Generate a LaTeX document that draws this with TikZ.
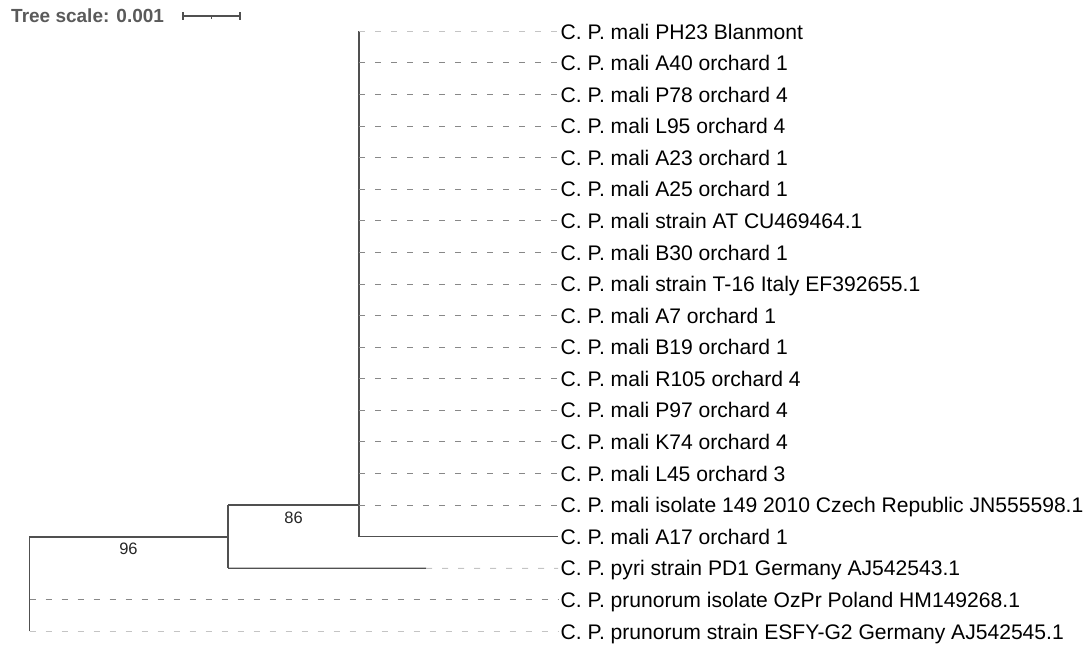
\documentclass[tikz,border=0pt]{standalone}
\usepackage{fontspec}
\setmainfont{Liberation Sans}
\usetikzlibrary{calc}
\definecolor{treec}{HTML}{505050}
\definecolor{dashc}{HTML}{888888}
\definecolor{dashlc}{HTML}{C4C4C4}
\definecolor{titlec}{HTML}{5A5A5A}
\tikzset{
  branch/.style={draw=treec, line width=1.3pt},
  leafdash/.style={draw=dashc, line width=1pt, dash pattern=on 6pt off 10pt},
  leafdashlight/.style={leafdash, draw=dashlc},
  leaflabel/.style={anchor=base west, inner sep=0pt, font=\fontsize{21.1}{24}\selectfont},
  boot/.style={inner sep=0pt, font=\fontsize{16.5}{19}\selectfont, text=black!85},
}
\begin{document}
\begin{tikzpicture}[x=1pt,y=-1pt]
\useasboundingbox (0,0) rectangle (1091,646);
% scale
\node[anchor=base west, inner sep=0pt, text=titlec, font=\fontsize{19}{22}\selectfont\bfseries] (title) at (11,22.7) {Tree scale: 0.001};
\coordinate (sb1) at (183,16);
\coordinate (sb2) at (240,16);
\coordinate (sbm) at (211.5,16);
\draw[branch, line width=1.1pt] (sb1) -- (sb2);
\draw[branch, line width=1.1pt] ([yshift=4pt]sb1) -- ([yshift=-4pt]sb1);
\draw[branch, line width=1.1pt] ([yshift=4pt]sb2) -- ([yshift=-4pt]sb2);
\draw[branch, line width=1.1pt] (sbm) -- ([yshift=-2.5pt]sbm);
% leaves
\foreach \i/\txt in {
 1/C. P. mali PH23 Blanmont,
 2/C. P. mali A40 orchard 1,
 3/C. P. mali P78 orchard 4,
 4/C. P. mali L95 orchard 4,
 5/C. P. mali A23 orchard 1,
 6/C. P. mali A25 orchard 1,
 7/C. P. mali strain AT CU469464.1,
 8/C. P. mali B30 orchard 1,
 9/C. P. mali strain T-16 Italy EF392655.1,
 10/C. P. mali A7 orchard 1,
 11/C. P. mali B19 orchard 1,
 12/C. P. mali R105 orchard 4,
 13/C. P. mali P97 orchard 4,
 14/C. P. mali K74 orchard 4,
 15/C. P. mali L45 orchard 3,
 16/C. P. mali isolate 149 2010 Czech Republic JN555598.1,
 17/C. P. mali A17 orchard 1,
 18/C. P. pyri strain PD1 Germany AJ542543.1,
 19/C. P. prunorum isolate OzPr Poland HM149268.1,
 20/C. P. prunorum strain ESFY-G2 Germany AJ542545.1}{
  \pgfmathsetmacro\yy{31.4+(\i-1)*31.58}
  \coordinate (e\i) at (558,\yy);
  \node[leaflabel] (t\i) at ([xshift=2.5pt,yshift=-7.6pt]e\i) {\txt};
}
% internal nodes
\coordinate (root) at (29.5,537);
\coordinate (A) at (228,537);
\coordinate (B) at (359,505);
\coordinate (pyrisplit) at (426,568.3);
% branches
\draw[branch] (root |- e20) -- (root) -- (A);
\draw[branch] (A |- B) -- (A |- e18);
\draw[branch] (A |- B) -- (B);
\draw[branch] (B |- e1) -- (B |- e17);
\draw[branch] (B |- e17) -- (e17);
\draw[branch] (A |- e18) -- (pyrisplit);
\draw[leafdashlight] (pyrisplit) -- (e18);
\draw[leafdashlight] (B |- e1) -- (e1);
\foreach \i in {2,...,16}{
  \draw[leafdash] (B |- e\i) -- (e\i);
}
\draw[leafdash] (root |- e19) -- (e19);
\draw[leafdashlight] (root |- e20) -- (e20);
% bootstrap
\node[boot] (b96) at (128.5,549) {96};
\node[boot] (b86) at (293.5,517.5) {86};
\end{tikzpicture}
\end{document}
